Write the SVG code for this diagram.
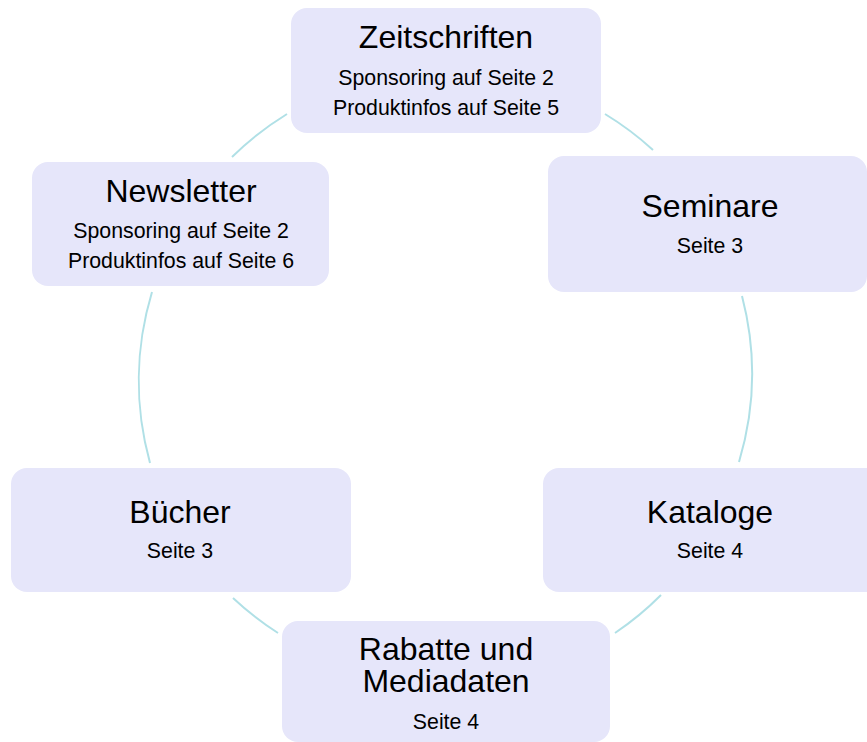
<svg xmlns="http://www.w3.org/2000/svg" width="867" height="742" viewBox="0 0 867 742">
<style>
.box{fill:#E6E6FA;stroke:none}
.t{font-family:"Liberation Sans",Arial,sans-serif;font-size:32px;fill:#000;text-anchor:middle}
.s{font-family:"Liberation Sans",Arial,sans-serif;font-size:21.3px;fill:#000;text-anchor:middle}
.arc{fill:none;stroke:#B0E0E6;stroke-width:2}
</style>
<rect width="867" height="742" fill="#fff"/>
<g id="connectors">
<path class="arc" d="M605 114 A307 307 0 0 1 653 150"/>
<path class="arc" d="M742 296 A307 307 0 0 1 739 462"/>
<path class="arc" d="M661 595 A307 307 0 0 1 615 633"/>
<path class="arc" d="M278 633 A307 307 0 0 1 233 598"/>
<path class="arc" d="M150 463 A307 307 0 0 1 152 292"/>
<path class="arc" d="M232 157 A307 307 0 0 1 287 114"/>
</g>
<g id="zeitschriften">
<rect class="box" x="291" y="8" width="310" height="125" rx="16"/>
<text class="t" x="446" y="48">Zeitschriften</text>
<text class="s" x="446" y="85">Sponsoring auf Seite 2</text>
<text class="s" x="446" y="115">Produktinfos auf Seite 5</text>
</g>
<g id="newsletter">
<rect class="box" x="32" y="162" width="297" height="124" rx="16"/>
<text class="t" x="181" y="202">Newsletter</text>
<text class="s" x="181" y="238">Sponsoring auf Seite 2</text>
<text class="s" x="181" y="268">Produktinfos auf Seite 6</text>
</g>
<g id="seminare">
<rect class="box" x="548" y="156" width="319" height="136" rx="16"/>
<text class="t" x="710" y="217">Seminare</text>
<text class="s" x="710" y="253">Seite 3</text>
</g>
<g id="kataloge">
<rect class="box" x="543" y="468" width="340" height="124" rx="16"/>
<text class="t" x="710" y="523">Kataloge</text>
<text class="s" x="710" y="558">Seite 4</text>
</g>
<g id="buecher">
<rect class="box" x="11" y="468" width="340" height="124" rx="16"/>
<text class="t" x="180" y="523">Bücher</text>
<text class="s" x="180" y="558">Seite 3</text>
</g>
<g id="rabatte">
<rect class="box" x="282" y="621" width="328" height="121" rx="16"/>
<text class="t" x="446" y="660"><tspan x="446" y="660">Rabatte und</tspan><tspan x="446" y="692">Mediadaten</tspan></text>
<text class="s" x="446" y="729">Seite 4</text>
</g>
</svg>
